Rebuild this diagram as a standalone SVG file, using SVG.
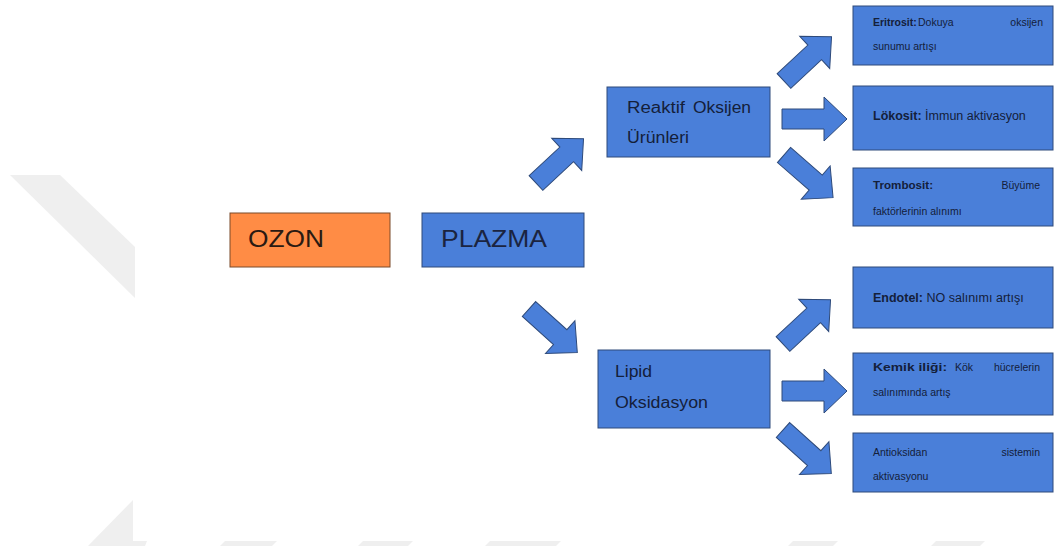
<svg xmlns="http://www.w3.org/2000/svg" width="1056" height="550" viewBox="0 0 1056 550">
<style>
.box{fill:#4A7FD9;stroke:#2E4A7A;stroke-width:1}
.oz{fill:#FF8C45;stroke:#7A4A2A;stroke-width:1}
.arr{fill:#4A7FD9;stroke:#2E4A7A;stroke-width:1;stroke-linejoin:miter}
.big{font-family:"Liberation Sans",Arial,sans-serif;font-size:24px;fill:#1B2440}
.mid{font-family:"Liberation Sans",Arial,sans-serif;font-size:16px;fill:#14203A}
.sm{font-family:"Liberation Sans",Arial,sans-serif;font-size:10.5px;fill:#14203A}
.sl{font-family:"Liberation Sans",Arial,sans-serif;font-size:12.5px;fill:#14203A}
.b{font-weight:bold}
.wm{fill:#EFEFEF}
</style>
<defs>
<path id="ar" d="M0,-10 H42 V-22 L65,0 L42,22 V10 H0 Z"/>
</defs>
<rect width="1056" height="550" fill="#FFFFFF"/>
<g id="watermark">
<polygon class="wm" points="10,175 60,175 135,247 135,298"/>
<polygon class="wm" points="133,500 133,541 147,541 145,546 88,546"/>
<polygon class="wm" points="225,541 277,541 272,546 220,546"/>
<polygon class="wm" points="363,541 413,541 408,546 358,546"/>
<polygon class="wm" points="490,541 561,541 556,546 485,546"/>
<polygon class="wm" points="793,541 838,541 833,546 788,546"/>
<polygon class="wm" points="936,541 985,541 980,546 931,546"/>
</g>
<g id="connectors">
<use href="#ar" class="arr" transform="translate(536,183) rotate(-43)"/>
<use href="#ar" class="arr" transform="translate(529,309) rotate(42)"/>
<use href="#ar" class="arr" transform="translate(784,81) rotate(-43)"/>
<use href="#ar" class="arr" transform="translate(782,119)"/>
<use href="#ar" class="arr" transform="translate(784,155) rotate(41)"/>
<use href="#ar" class="arr" transform="translate(783,344) rotate(-43)"/>
<use href="#ar" class="arr" transform="translate(782,391)"/>
<use href="#ar" class="arr" transform="translate(783,430) rotate(42)"/>
</g>
<g id="ozon">
<rect class="oz" x="230" y="213" width="160" height="54"/>
<text class="big" x="248" y="247" style="fill:#2A1A12" textLength="76" lengthAdjust="spacingAndGlyphs">OZON</text>
</g>
<g id="plazma">
<rect class="box" x="422" y="213" width="162" height="54"/>
<text class="big" x="441" y="247" textLength="106" lengthAdjust="spacingAndGlyphs">PLAZMA</text>
</g>
<g id="reaktif">
<rect class="box" x="607" y="87" width="163" height="70"/>
<text class="mid" x="627" y="113" textLength="58" lengthAdjust="spacingAndGlyphs">Reaktif</text>
<text class="mid" x="693" y="113" textLength="58" lengthAdjust="spacingAndGlyphs">Oksijen</text>
<text class="mid" x="627" y="143" textLength="62" lengthAdjust="spacingAndGlyphs">Ürünleri</text>
</g>
<g id="lipid">
<rect class="box" x="598" y="350" width="172" height="78"/>
<text class="mid" x="615" y="377" textLength="37" lengthAdjust="spacingAndGlyphs">Lipid</text>
<text class="mid" x="615" y="408" textLength="93" lengthAdjust="spacingAndGlyphs">Oksidasyon</text>
</g>
<g id="eritrosit">
<rect class="box" x="853" y="6" width="200" height="59"/>
<text class="sm b" x="873" y="26">Eritrosit:</text>
<text class="sm" x="918" y="26">Dokuya</text>
<text class="sm" x="1043" y="26" text-anchor="end">oksijen</text>
<text class="sm" x="873" y="50">sunumu artışı</text>
</g>
<g id="lokosit">
<rect class="box" x="853" y="86" width="200" height="64"/>
<text class="sl" x="873" y="120"><tspan class="b">Lökosit:</tspan> İmmun aktivasyon</text>
</g>
<g id="trombosit">
<rect class="box" x="853" y="168" width="200" height="58"/>
<text class="sm b" x="873" y="189" textLength="60" lengthAdjust="spacingAndGlyphs">Trombosit:</text>
<text class="sm" x="1040" y="189" text-anchor="end">Büyüme</text>
<text class="sm" x="873" y="215">faktörlerinin alınımı</text>
</g>
<g id="endotel">
<rect class="box" x="853" y="267" width="200" height="61"/>
<text class="sl" x="873" y="302"><tspan class="b">Endotel:</tspan> NO salınımı artışı</text>
</g>
<g id="kemik">
<rect class="box" x="853" y="353" width="200" height="62"/>
<text class="sm b" x="873" y="371" textLength="74" lengthAdjust="spacingAndGlyphs">Kemik iliği:</text>
<text class="sm" x="955" y="371">Kök</text>
<text class="sm" x="1040" y="371" text-anchor="end">hücrelerin</text>
<text class="sm" x="873" y="396">salınımında artış</text>
</g>
<g id="antioksidan">
<rect class="box" x="853" y="433" width="200" height="59"/>
<text class="sm" x="873" y="456">Antioksidan</text>
<text class="sm" x="1040" y="456" text-anchor="end">sistemin</text>
<text class="sm" x="873" y="480">aktivasyonu</text>
</g>
</svg>
